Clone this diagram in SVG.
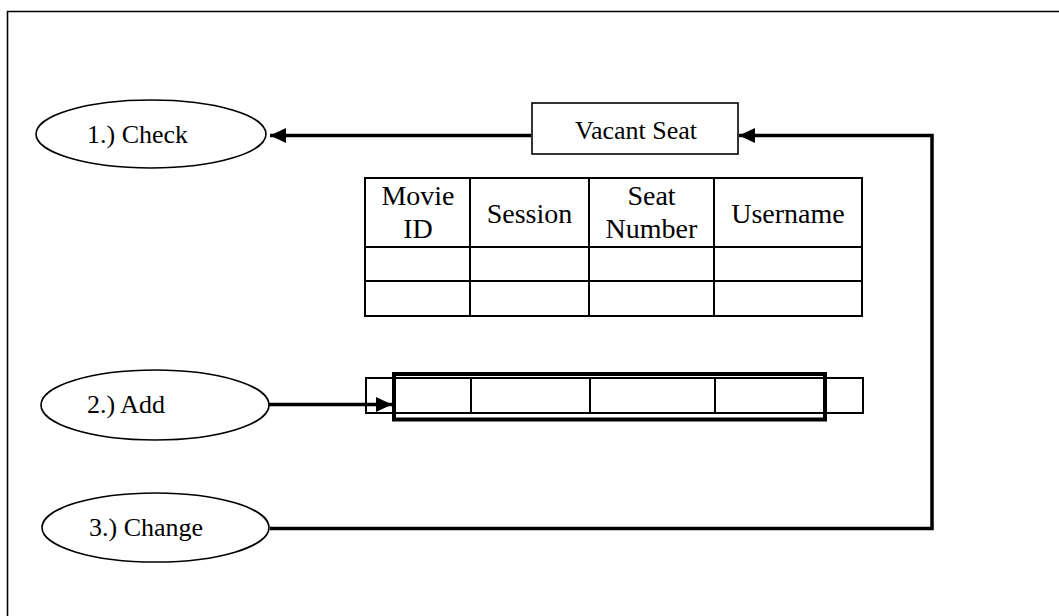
<svg xmlns="http://www.w3.org/2000/svg" width="1059" height="616" viewBox="0 0 1059 616">
  <defs>
    <style>
      .lbl { font-family: "Liberation Serif", "Times New Roman", serif; font-size: 26px; fill: #000; }
      .hdr { font-family: "Liberation Serif", "Times New Roman", serif; font-size: 28px; fill: #000; text-anchor: middle; }
      .oval { fill: #fff; stroke: #000; stroke-width: 1.6; }
      .box { fill: #fff; stroke: #000; stroke-width: 1.6; }
      .grid { fill: none; stroke: #000; stroke-width: 2; }
      .flow { fill: none; stroke: #000; stroke-width: 3.5; }
    </style>
    <marker id="head" markerUnits="userSpaceOnUse" markerWidth="17" markerHeight="15" refX="16" refY="7.5" orient="auto">
      <path d="M0,0 L16,7.5 L0,15 Z" fill="#000"/>
    </marker>
  </defs>

  <rect width="1059" height="616" fill="#fff"/>
  <!-- frame: open to the right and bottom -->
  <path d="M7.5,640 V11.5 H1080" fill="none" stroke="#000" stroke-width="1.6"/>

  <g id="connectors">
    <line class="flow" x1="531" y1="135.5" x2="270" y2="135.5" marker-end="url(#head)"/>
    <polyline class="flow" points="270,528.5 932,528.5 932,135.5 739,135.5" marker-end="url(#head)"/>
    <line class="flow" x1="269" y1="404.5" x2="392" y2="404.5" marker-end="url(#head)"/>
  </g>

  <g id="check">
    <ellipse class="oval" cx="151" cy="134" rx="115" ry="34"/>
    <text class="lbl" x="87" y="143">1.) Check</text>
  </g>

  <g id="add">
    <ellipse class="oval" cx="155" cy="405" rx="114" ry="35"/>
    <text class="lbl" x="87" y="413">2.) Add</text>
  </g>

  <g id="change">
    <ellipse class="oval" cx="155.5" cy="527.5" rx="113.5" ry="34.5"/>
    <text class="lbl" x="89" y="536">3.) Change</text>
  </g>

  <g id="vacant-seat">
    <rect class="box" x="532" y="103" width="206" height="51"/>
    <text class="lbl" x="575" y="139">Vacant Seat</text>
  </g>

  <g id="seat-table">
    <rect class="grid" x="365" y="178" width="497" height="138"/>
    <line class="grid" x1="365" y1="247" x2="862" y2="247"/>
    <line class="grid" x1="365" y1="281" x2="862" y2="281"/>
    <line class="grid" x1="470" y1="178" x2="470" y2="316"/>
    <line class="grid" x1="589" y1="178" x2="589" y2="316"/>
    <line class="grid" x1="714" y1="178" x2="714" y2="316"/>
    <text class="hdr" x="418" y="205">Movie</text>
    <text class="hdr" x="418" y="238">ID</text>
    <text class="hdr" x="529.5" y="223">Session</text>
    <text class="hdr" x="651.5" y="205">Seat</text>
    <text class="hdr" x="651.5" y="238">Number</text>
    <text class="hdr" x="788" y="223">Username</text>
  </g>

  <g id="new-row">
    <rect class="grid" x="366" y="378" width="497" height="35"/>
    <line class="grid" x1="471" y1="378" x2="471" y2="413"/>
    <line class="grid" x1="590" y1="378" x2="590" y2="413"/>
    <line class="grid" x1="715" y1="378" x2="715" y2="413"/>
    <rect x="394" y="374" width="431" height="45.5" fill="none" stroke="#000" stroke-width="4"/>
  </g>
</svg>
